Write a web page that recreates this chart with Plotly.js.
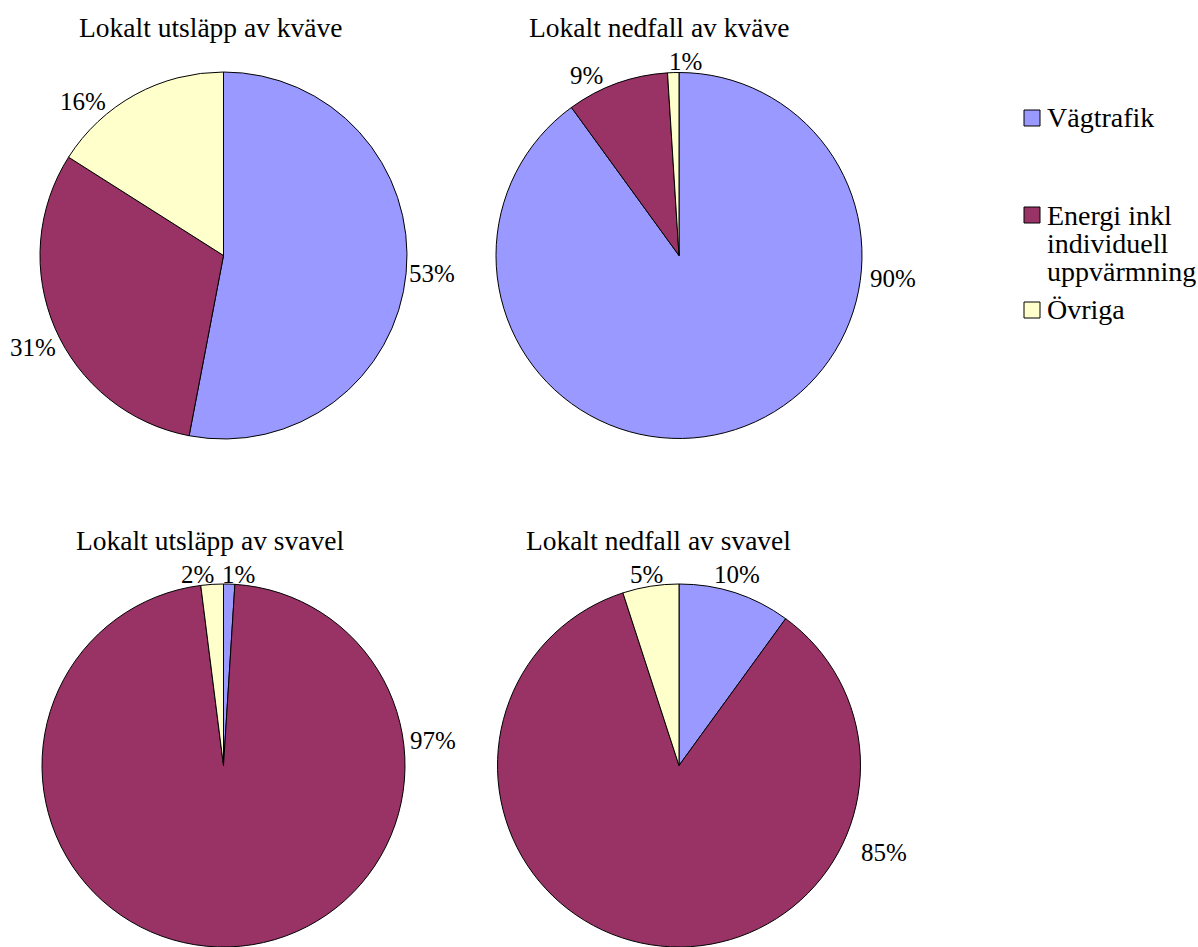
<!DOCTYPE html>
<html>
<head>
<meta charset="utf-8">
<script src="https://cdn.plot.ly/plotly-3.0.1.min.js"></script>
<style>html,body{margin:0;padding:0;overflow:hidden;background:#fff}</style>
</head>
<body>
<div id="chart" style="width:1198px;height:947px"></div>
<script>
const categories = ["Vägtrafik", "Energi inkl individuell uppvärmning", "Övriga"];
const legendLines = [["Vägtrafik"], ["Energi inkl", "individuell", "uppvärmning"], ["Övriga"]];
const colors = ["#9999FF", "#993366", "#FFFFCC"];
const titles = ["Lokalt utsläpp av kväve", "Lokalt nedfall av kväve", "Lokalt utsläpp av svavel", "Lokalt nedfall av svavel"];
const utslappKvave = [53, 31, 16];
const nedfallKvave = [90, 9, 1];
const utslappSvavel = [1, 97, 2];
const nedfallSvavel = [10, 85, 5];

const W = 1198, H = 947;
const FONT = "'Liberation Serif', 'Times New Roman', serif";
const px = v => v / W, py = v => 1 - v / H;

const series = [utslappKvave, nedfallKvave, utslappSvavel, nedfallSvavel];
const domains = [
  {x: [px(40), px(407)], y: [py(439), py(72)]},
  {x: [px(496), px(862)], y: [py(439), py(72)]},
  {x: [px(40), px(407)], y: [0, py(584)]},
  {x: [px(496), px(862)], y: [0, py(584)]}
];
const titlePos = [[210, 27], [659, 27], [210, 540], [658, 540]];

// data-label placement (pixels) per pie, per slice, as in the original layout
const labelPos = [
  [[432, 274], [33, 347], [83, 101]],
  [[893, 278], [586, 75], [685, 62]],
  [[238, 574], [433, 740], [197, 574]],
  [[737, 574], [884, 852], [646, 574]]
];

const pct = (vals, j) => Math.round(100 * vals[j] / vals.reduce((a, b) => a + b, 0)) + "%";

const traces = series.map((vals, i) => ({
  type: "pie",
  labels: categories,
  values: vals,
  sort: false,
  direction: "clockwise",
  rotation: 0,
  domain: domains[i],
  marker: {colors: colors, line: {color: "#000", width: 1}},
  textinfo: "none",
  hoverinfo: "label+percent",
  showlegend: false
}));

const annotations = titles.map((t, i) => ({
  text: t, xref: "paper", yref: "paper",
  x: px(titlePos[i][0]), y: py(titlePos[i][1]),
  xanchor: "center", yanchor: "middle", showarrow: false,
  font: {family: FONT, size: 27.5, color: "#000"}
}));

series.forEach((vals, i) => {
  vals.forEach((v, j) => {
    const [x, y] = labelPos[i][j];
    annotations.push({text: pct(vals, j), xref: "paper", yref: "paper",
      x: px(x), y: py(y), xanchor: "center", yanchor: "middle", showarrow: false,
      font: {family: FONT, size: 25, color: "#000"}});
  });
});

const legendY = [118, 215, 310];
const legendLineGap = 28.5;
const shapes = [];
legendLines.forEach((lines, i) => {
  shapes.push({type: "rect", xref: "paper", yref: "paper",
    x0: px(1024), x1: px(1040), y0: py(legendY[i] + 8), y1: py(legendY[i] - 8),
    fillcolor: colors[i], line: {color: "#000", width: 1}});
  lines.forEach((ln, k) => {
    annotations.push({text: ln, xref: "paper", yref: "paper",
      x: px(1045), y: py(legendY[i] + k * legendLineGap), xanchor: "left", yanchor: "middle",
      align: "left", showarrow: false,
      font: {family: FONT, size: 28, color: "#000"}});
  });
});

const layout = {
  width: W, height: H,
  margin: {l: 0, r: 0, t: 0, b: 0},
  paper_bgcolor: "#fff", plot_bgcolor: "#fff",
  showlegend: false,
  annotations: annotations,
  shapes: shapes
};
Plotly.newPlot("chart", traces, layout, {displayModeBar: false, staticPlot: true});
</script>
</body>
</html>
